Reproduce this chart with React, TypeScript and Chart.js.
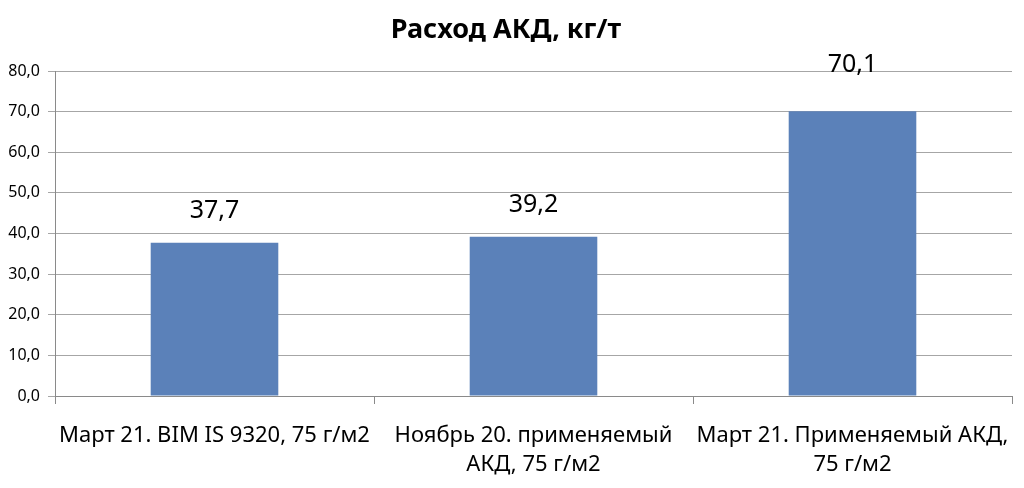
import React, { useEffect, useRef } from "react";
import { Chart, registerables } from "chart.js";

Chart.register(...registerables);

const categories: (string | string[])[] = [
  "Март 21. BIM IS 9320, 75 г/м2",
  ["Ноябрь 20. применяемый", "АКД, 75 г/м2"],
  ["Март 21. Применяемый АКД,", "75 г/м2"],
];
const consumption = [37.7, 39.2, 70.1];
const yTicks = { min: 0, max: 80, step: 10 };
// сдвиг подписей над столбцами, px (как в исходнике)
const labelOffsets = [32, 32, 46];

const FONT = "'Noto Sans', 'DejaVu Sans', sans-serif";
const fmt = (v: number) => v.toFixed(1).replace(".", ",");

const valueLabels = {
  id: "valueLabels",
  afterDatasetsDraw(chart: Chart) {
    const { ctx } = chart;
    const meta = chart.getDatasetMeta(0);
    ctx.save();
    ctx.font = `25px ${FONT}`;
    ctx.fillStyle = "#000";
    ctx.textAlign = "center";
    ctx.textBaseline = "middle";
    meta.data.forEach((bar: any, i: number) => {
      ctx.fillText(fmt(consumption[i]), bar.x, bar.y - labelOffsets[i]);
    });
    ctx.restore();
  },
};

const App: React.FC = () => {
  const canvasRef = useRef<HTMLCanvasElement>(null);

  useEffect(() => {
    if (!canvasRef.current) return;
    const chart = new Chart(canvasRef.current, {
      type: "bar",
      data: {
        labels: categories,
        datasets: [
          {
            data: consumption,
            backgroundColor: "#5b81b9",
            categoryPercentage: 1,
            barPercentage: 0.4,
          },
        ],
      },
      options: {
        animation: false,
        responsive: true,
        maintainAspectRatio: false,
        layout: { padding: { right: 12, left: 0, top: 0, bottom: 0 } },
        plugins: {
          legend: { display: false },
          tooltip: { enabled: false },
          title: {
            display: true,
            text: "Расход АКД, кг/т",
            color: "#000",
            font: { family: FONT, size: 27, weight: "bold" },
            padding: { top: 14, bottom: 24.6 },
          },
        },
        scales: {
          x: {
            grid: {
              drawOnChartArea: false,
              drawTicks: true,
              tickLength: 8,
              color: "#8a8a8a",
            },
            border: { color: "#8a8a8a" },
            ticks: {
              color: "#000",
              font: { family: FONT, size: 22, lineHeight: 1.32 },
              padding: 17,
              maxRotation: 0,
              autoSkip: false,
            },
            afterFit: (scale: any) => {
              scale.height = 92;
              scale.paddingLeft = 0;
              scale.paddingRight = 0;
            },
          },
          y: {
            min: yTicks.min,
            max: yTicks.max,
            grid: { color: "#a6a6a6", tickLength: 7 },
            border: { color: "#8a8a8a" },
            ticks: {
              stepSize: yTicks.step,
              color: "#000",
              font: { family: FONT, size: 16 },
              padding: 8,
              callback: (v: any) => fmt(Number(v)),
            },
            afterFit: (scale: any) => {
              scale.width = 55;
            },
          },
        },
      },
      plugins: [valueLabels],
    });
    return () => chart.destroy();
  }, []);

  return (
    <div
      style={{
        position: "absolute",
        left: 0,
        top: 0,
        width: 1024,
        height: 488,
        background: "#fff",
      }}
    >
      <canvas ref={canvasRef} />
    </div>
  );
};

export default App;
